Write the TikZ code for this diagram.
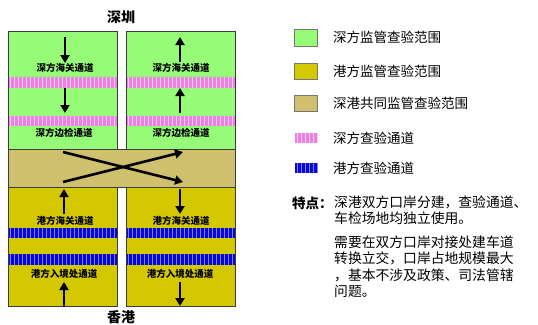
\documentclass[tikz,border=0pt]{standalone}
\usepackage{fontspec}
\newfontfamily\cjk{Noto Sans CJK SC}
\usetikzlibrary{arrows.meta}
\definecolor{szgreen}{RGB}{150,252,120}
\definecolor{hkyellow}{RGB}{212,200,0}
\definecolor{jointtan}{RGB}{206,192,108}
\definecolor{szpink}{RGB}{238,128,228}
\definecolor{szpinkline}{RGB}{252,205,248}
\definecolor{hkblue}{RGB}{8,8,210}
\definecolor{hkblueline}{RGB}{120,130,255}
\definecolor{frame}{RGB}{60,60,60}
\newcommand{\hatchband}[6]{%
  \begin{scope}
    \clip (#1,#2) rectangle (#3,#4);
    \fill[#5] (#1,#2) rectangle (#3,#4);
    \foreach \i in {0,...,30} \draw[#6, line width=0.7pt] (#1+2+4*\i,#2) -- (#1+2+4*\i,#4);
  \end{scope}}
\begin{document}
\begin{tikzpicture}[x=1pt,y=-1pt,
  box/.style={draw=frame, line width=0.9pt},
  arr/.style={line width=2.6pt, -{Triangle[length=8pt,width=9pt]}},
  lab/.style={font=\cjk\bfseries\fontsize{9.5}{10}\selectfont, inner sep=0pt},
  title/.style={font=\cjk\bfseries\fontsize{14}{14}\selectfont, inner sep=0pt},
  legtext/.style={font=\cjk\fontsize{13.5}{14}\selectfont, anchor=west, inner sep=0pt},
  legbox/.style={draw=frame!70, line width=0.6pt}]
\useasboundingbox (0,0) rectangle (538,324);
\fill[white] (0,0) rectangle (538,324);

% titles
\node[title] (sz) at (121,17) {深圳};
\node[title] (hk) at (121,317) {香港};

% Shenzhen (green) boxes
\fill[szgreen] (8,31) rectangle (117,149);
\fill[szgreen] (126,31) rectangle (235,149);
\hatchband{8}{77}{117}{88}{szpink}{szpinkline}
\hatchband{8}{116}{117}{126}{szpink}{szpinkline}
\hatchband{126}{77}{235}{88}{szpink}{szpinkline}
\hatchband{126}{116}{235}{126}{szpink}{szpinkline}
\draw[box] (8,31) rectangle (117,149);
\draw[box] (126,31) rectangle (235,149);

% joint (tan) zone
\fill[jointtan] (8,149) rectangle (235,187);
\draw[box] (8,149) rectangle (235,187);

% Hong Kong (yellow) boxes
\fill[hkyellow] (8,187) rectangle (117,306);
\fill[hkyellow] (126,187) rectangle (235,306);
\hatchband{8}{228}{117}{238}{hkblue}{hkblueline}
\hatchband{8}{254}{117}{265}{hkblue}{hkblueline}
\hatchband{126}{228}{235}{238}{hkblue}{hkblueline}
\hatchband{126}{254}{235}{265}{hkblue}{hkblueline}
\draw[box] (8,187) rectangle (117,306);
\draw[box] (126,187) rectangle (235,306);

% labels inside boxes
\node[lab] (l1) at (65,68) {深方海关通道};
\node[lab] (l2) at (64,133) {深方边检通道};
\node[lab] (r1) at (181,68) {深方海关通道};
\node[lab] (r2) at (181,133) {深方边检通道};
\node[lab] (l3) at (65,221) {港方海关通道};
\node[lab] (l4) at (64,274) {港方入境处通道};
\node[lab] (r3) at (181,221) {港方海关通道};
\node[lab] (r4) at (180,274) {港方入境处通道};

% arrow end points
\coordinate (a1s) at (65,37);  \coordinate (a1e) at (65,63);
\coordinate (a2s) at (65,88);  \coordinate (a2e) at (65,113);
\coordinate (b1s) at (180,62); \coordinate (b1e) at (180,37);
\coordinate (b2s) at (180,113);\coordinate (b2e) at (180,88);
\coordinate (c1s) at (63,152); \coordinate (c1e) at (183,182);
\coordinate (c2s) at (63,182); \coordinate (c2e) at (183,152);
\coordinate (d1s) at (64,214); \coordinate (d1e) at (64,189);
\coordinate (d2s) at (64,306); \coordinate (d2e) at (64,282);
\coordinate (e1s) at (180,189);\coordinate (e1e) at (180,214);
\coordinate (e2s) at (180,282);\coordinate (e2e) at (180,306);

\draw[arr] (a1s) -- (a1e);
\draw[arr] (a2s) -- (a2e);
\draw[arr] (b1s) -- (b1e);
\draw[arr] (b2s) -- (b2e);
\draw[arr] (c1s) -- (c1e);
\draw[arr] (c2s) -- (c2e);
\draw[arr] (d1s) -- (d1e);
\draw[arr] (d2s) -- (d2e);
\draw[arr] (e1s) -- (e1e);
\draw[arr] (e2s) -- (e2e);

% legend
\fill[szgreen] (294,29) rectangle (317,46);   \draw[legbox] (294,29) rectangle (317,46);
\fill[hkyellow] (294,63) rectangle (317,79);  \draw[legbox] (294,63) rectangle (317,79);
\fill[jointtan] (294,95) rectangle (317,111); \draw[legbox] (294,95) rectangle (317,111);
\hatchband{295}{133}{318}{143}{szpink}{szpinkline}
\hatchband{295}{163}{318}{173}{hkblue}{hkblueline}
\node[legtext] (t1) at (333,37) {深方监管查验范围};
\node[legtext] (t2) at (333,71) {港方监管查验范围};
\node[legtext] (t3) at (333,103) {深港共同监管查验范围};
\node[legtext] (t4) at (333,138) {深方查验通道};
\node[legtext] (t5) at (333,168) {港方查验通道};

% features
\node[legtext, font=\cjk\bfseries\fontsize{13.5}{14}\selectfont] (fk) at (292,203) {特点：};
\node[anchor=north west, inner sep=0pt, align=left,
      font=\cjk\fontsize{13.8}{16.5}\selectfont] (ft) at (334,195.5)
  {深港双方口岸分建，查验通道、\\
   车检场地均独立使用。\\[7pt]
   需要在双方口岸对接处建车道\\
   转换立交，口岸占地规模最大\\
   ，基本不涉及政策、司法管辖\\
   问题。};
\end{tikzpicture}
\end{document}
